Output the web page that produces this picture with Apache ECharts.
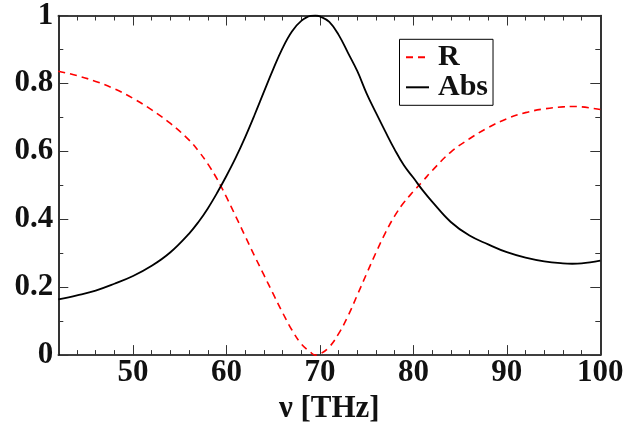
<!DOCTYPE html>
<html>
<head>
<meta charset="utf-8">
<script src="https://cdn.jsdelivr.net/npm/echarts@6/dist/echarts.min.js"></script>
<style>
html,body{margin:0;padding:0;background:#fff;}
#chart{width:638px;height:429px;}
</style>
</head>
<body>
<div id="chart"></div>
<script>
// frequency (THz)
const freq = [42,44,46,48,50,52,54,56,57,58,59,60,61,62,63,64,65,66,67,68,69,69.5,70,71,72,73,74,75,76,77,78,79,80,81,82,84,86,88,90,92,94,96,97,98,100];
// reflectance R
const rValues = [0.836,0.823,0.806,0.784,0.756,0.722,0.682,0.633,0.601,0.563,0.518,0.465,0.408,0.35,0.292,0.236,0.18,0.125,0.074,0.033,0.008,0.0,0.003,0.024,0.063,0.115,0.177,0.24,0.302,0.36,0.41,0.45,0.482,0.512,0.543,0.598,0.637,0.67,0.696,0.714,0.725,0.731,0.732,0.731,0.723];
// absorption Abs
const absValues = [0.164,0.176,0.19,0.21,0.233,0.263,0.303,0.358,0.392,0.432,0.478,0.528,0.582,0.642,0.707,0.775,0.842,0.904,0.953,0.984,0.999,1.0,0.997,0.981,0.943,0.89,0.836,0.77,0.713,0.658,0.605,0.558,0.522,0.485,0.452,0.392,0.352,0.326,0.303,0.287,0.276,0.27,0.269,0.27,0.278];
const xMajorTicks = [50,60,70,80,90,100];
const seriesNames = ['R','Abs'];
const xTitle = 'ν [THz]';

const FONT = 'Liberation Serif';
const labelStyle = {fontFamily: FONT, fontWeight: 'bold', fontSize: 31, color: '#111'};
const tickStyle = {color: '#333', width: 1};
const lineStyle = {color: '#000', width: 1.6};

function xMinor(pos) {
  return {type:'value', gridIndex:0, position:pos, min:42, max:100, interval:2,
    axisLine:{show:true, onZero:false, lineStyle:lineStyle},
    axisTick:{show:true, inside:true, length:5, lineStyle:tickStyle},
    axisLabel:{show:false}, splitLine:{show:false}};
}
function xMajor(pos, labels) {
  const a = {type:'value', gridIndex:0, position:pos, min:42, max:100,
    axisLine:{show:false, onZero:false},
    axisTick:{show:true, inside:true, length:10, lineStyle:tickStyle, customValues:xMajorTicks},
    axisLabel: labels ? Object.assign({show:true, margin:2, customValues:xMajorTicks}, labelStyle) : {show:false},
    splitLine:{show:false}};
  if (labels) {
    a.name = xTitle; a.nameLocation = 'middle'; a.nameGap = 35;
    a.nameTextStyle = Object.assign({}, labelStyle);
  }
  return a;
}
function yMinor(pos) {
  return {type:'value', gridIndex:0, position:pos, min:0, max:1, interval:0.1,
    axisLine:{show:true, onZero:false, lineStyle:lineStyle},
    axisTick:{show:true, inside:true, length:5, lineStyle:tickStyle},
    axisLabel:{show:false}, splitLine:{show:false}};
}
function yMajor(pos, labels) {
  return {type:'value', gridIndex:0, position:pos, min:0, max:1, interval:0.2,
    axisLine:{show:false, onZero:false},
    axisTick:{show:true, inside:true, length:10, lineStyle:tickStyle},
    axisLabel: labels ? Object.assign({show:true, margin:5}, labelStyle) : {show:false},
    splitLine:{show:false}};
}

const chart = echarts.init(document.getElementById('chart'), null, {renderer:'canvas'});
chart.setOption({
  animation:false,
  backgroundColor:'#fff',
  grid:{left:58.3, right:37.7, top:12.5, bottom:65, containLabel:false},
  xAxis:[xMinor('bottom'), xMajor('bottom', true), xMinor('top'), xMajor('top', false)],
  yAxis:[yMinor('left'), yMajor('left', true), yMinor('right'), yMajor('right', false)],
  legend:{
    show:true, orient:'vertical', left:399.5, top:39.3,
    padding:[3,5,3,5.5], borderColor:'#000', borderWidth:1, backgroundColor:'#fff',
    itemWidth:23, itemHeight:14, itemGap:0,
    itemStyle:{opacity:0},
    textStyle:{fontFamily:FONT, fontWeight:'bold', fontSize:30, color:'#111', lineHeight:26, padding:[0,0,0,4]},
    data:seriesNames
  },
  series:[
    {name:seriesNames[0], type:'line', xAxisIndex:0, yAxisIndex:0, symbol:'none', smooth:0.4,
     data:freq.map((f,i)=>[f, rValues[i]]),
     lineStyle:{color:'#ff0000', width:1.6, type:[7,5]}, itemStyle:{color:'#ff0000'}},
    {name:seriesNames[1], type:'line', xAxisIndex:0, yAxisIndex:0, symbol:'none', smooth:0.4,
     data:freq.map((f,i)=>[f, absValues[i]]),
     lineStyle:{color:'#000', width:1.8}, itemStyle:{color:'#000'}}
  ]
});
</script>
</body>
</html>
